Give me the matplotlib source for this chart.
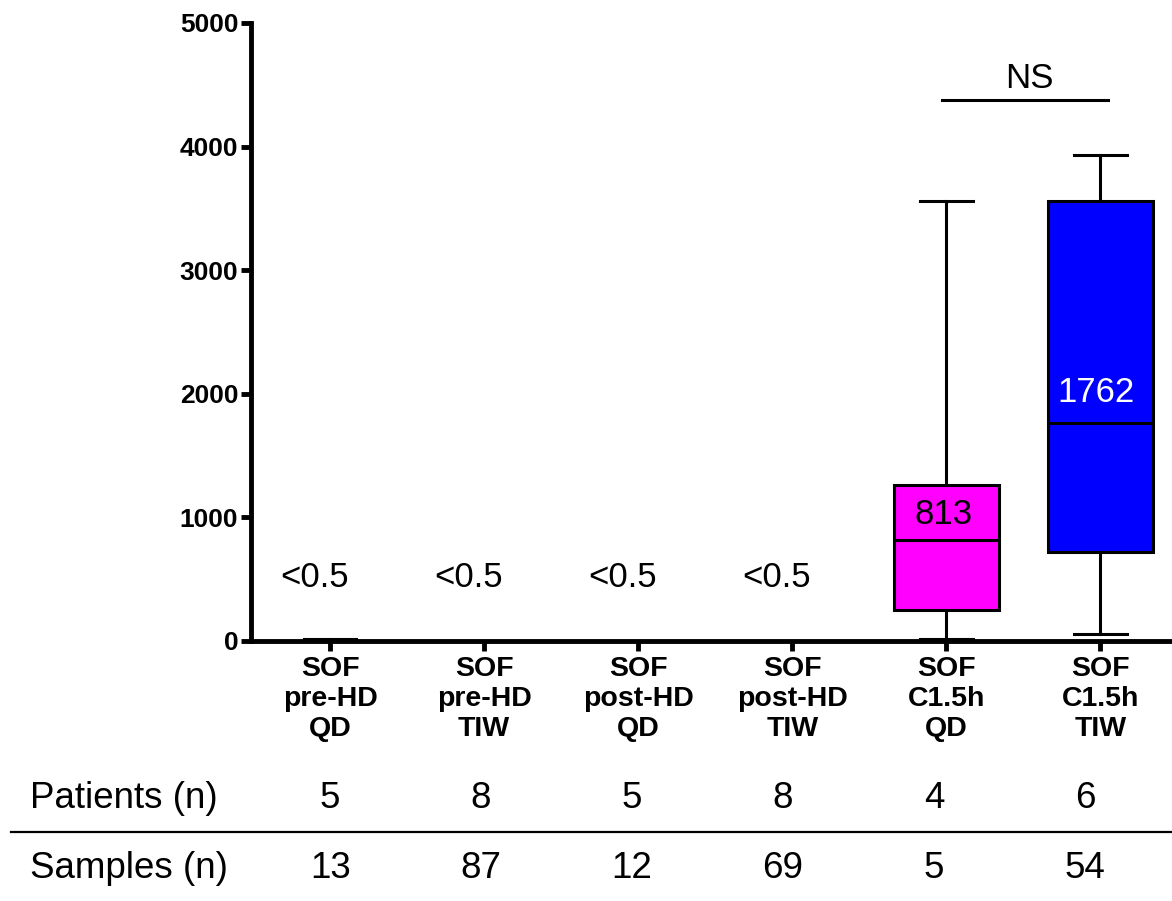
import numpy as np
import matplotlib
matplotlib.use('Agg')
import matplotlib.pyplot as plt
from matplotlib.lines import Line2D
import matplotlib.transforms as mtransforms

plt.rcParams['font.family'] = ['Liberation Sans', 'DejaVu Sans']

GROUPS = ['SOF\npre-HD\nQD', 'SOF\npre-HD\nTIW', 'SOF\npost-HD\nQD',
          'SOF\npost-HD\nTIW', 'SOF\nC1.5h\nQD', 'SOF\nC1.5h\nTIW']
# box stats: whisker low, q1, median, q3, whisker high
WHIS_LO = [0, 0, 0, 0, 19, 57]
Q1 = [0, 0, 0, 0, 249, 721]
MEDIAN = [0, 0, 0, 0, 813, 1762]
Q3 = [0, 0, 0, 0, 1265, 3557]
WHIS_HI = [15, 0, 0, 0, 3560, 3934]
BOX_COLORS = ['white', 'white', 'white', 'white', '#FF00FF', '#0000FF']

BELOW_LABELS = ['<0.5', '<0.5', '<0.5', '<0.5']
MEDIAN_LABELS = ['813', '1762']
PATIENTS = [5, 8, 5, 8, 4, 6]
SAMPLES = [13, 87, 12, 69, 5, 54]

fig = plt.figure(figsize=(11.72, 9.01), dpi=100)
ax = fig.add_axes([0.214, 0.2886, 0.786, 0.686])

pos = np.arange(1, len(GROUPS) + 1)
stats = []
for i in range(len(GROUPS)):
    stats.append(dict(whislo=WHIS_LO[i], q1=Q1[i], med=MEDIAN[i], q3=Q3[i],
                      whishi=WHIS_HI[i], fliers=[]))

bp = ax.bxp(stats, positions=pos, widths=0.68, patch_artist=True, showfliers=False,
            boxprops=dict(linewidth=2.2, edgecolor='black'),
            whiskerprops=dict(linewidth=2.2, color='black'),
            capprops=dict(linewidth=2.2, color='black'),
            medianprops=dict(linewidth=2.2, color='black'))
for patch, c in zip(bp['boxes'], BOX_COLORS):
    patch.set_facecolor(c)
# the empty groups have no visible box
for i in range(4):
    bp['boxes'][i].set_visible(False)
    bp['medians'][i].set_visible(False)

ax.set_xlim(0.485, 6.465)
ax.set_ylim(0, 5000)
ax.set_yticks([0, 1000, 2000, 3000, 4000, 5000])
ax.set_xticks(pos)
ax.set_xticklabels(GROUPS, fontsize=20.5, fontweight='bold', linespacing=1.2)
for lab in ax.get_yticklabels():
    lab.set_fontsize(19)
    lab.set_fontweight('bold')
ax.tick_params(axis='both', width=3.5, length=7, pad=4)
ax.tick_params(axis='y', pad=2)
ax.spines['top'].set_visible(False)
ax.spines['right'].set_visible(False)
ax.spines['left'].set_linewidth(3.5)
ax.spines['bottom'].set_linewidth(3.5)

for i, txt in enumerate(BELOW_LABELS):
    ax.text(pos[i] - 0.1, 514, txt, fontsize=25, ha='center', va='center')

ax.text(pos[4] - 0.02, 1020, MEDIAN_LABELS[0], fontsize=25, ha='center', va='center',
        color='black')
ax.text(pos[5] - 0.03, 2012, MEDIAN_LABELS[1], fontsize=25, ha='center', va='center',
        color='white')

# NS bracket
ax.plot([pos[4] - 0.03, pos[5] + 0.05], [4375, 4375], color='black', lw=2.2,
        clip_on=False)
ax.text((pos[4] + pos[5]) / 2 + 0.04, 4420, 'NS', fontsize=25, ha='center', va='bottom')

# counts table under the axis
trans = mtransforms.blended_transform_factory(ax.transData, fig.transFigure)
fig.text(0.0256, 0.1143, 'Patients (n)', fontsize=26.5, ha='left', va='center')
fig.text(0.0256, 0.0366, 'Samples (n)', fontsize=26.5, ha='left', va='center')
for i in range(len(GROUPS)):
    x = pos[i] - 0.02 * i
    ax.text(x, 0.1143, str(PATIENTS[i]), transform=trans, fontsize=26.5,
            ha='center', va='center')
    ax.text(x, 0.0366, str(SAMPLES[i]), transform=trans, fontsize=26.5,
            ha='center', va='center')
fig.add_artist(Line2D([0.009, 1.0], [0.0766, 0.0766], color='black', lw=1.6,
                      transform=fig.transFigure))

fig.savefig('out.png', dpi=100)
